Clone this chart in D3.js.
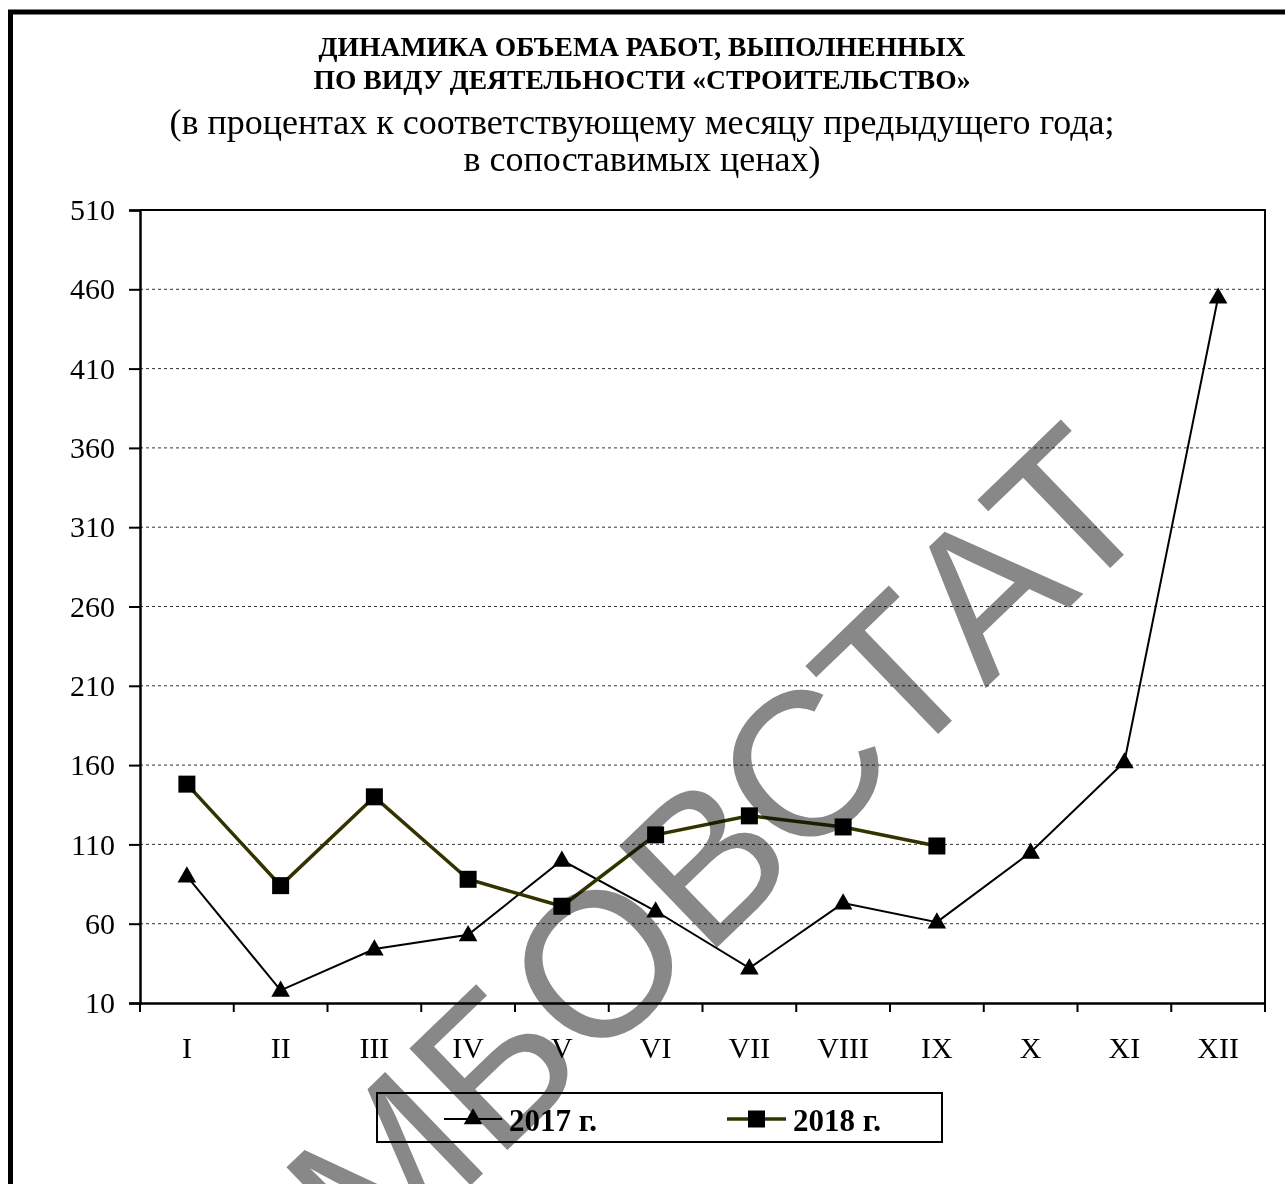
<!DOCTYPE html>
<html>
<head>
<meta charset="utf-8">
<script src="https://cdn.jsdelivr.net/npm/d3@7"></script>
<style>
  html, body { margin: 0; padding: 0; background: #fff; }
  svg { display: block; }
</style>
</head>
<body>
<svg id="chart" width="1285" height="1184"></svg>
<script>
const categories = ["I","II","III","IV","V","VI","VII","VIII","IX","X","XI","XII"];
const values2017 = [90, 18, 44, 53, 100, 68, 32, 73, 61, 105, 162, 455];
const values2018 = [148, 84, 140, 88, 71, 116, 128, 121, 109];
const yTicks = [10, 60, 110, 160, 210, 260, 310, 360, 410, 460, 510];
const seriesNames = ["2017 г.", "2018 г."];
const titleLines = ["ДИНАМИКА ОБЪЕМА РАБОТ, ВЫПОЛНЕННЫХ", "ПО ВИДУ ДЕЯТЕЛЬНОСТИ «СТРОИТЕЛЬСТВО»"];
const subtitleLines = ["(в процентах к соответствующему месяцу предыдущего года;", "в сопоставимых ценах)"];
const watermark = "МБОВСТАТ";

const svg = d3.select("#chart");
const serif = "'Liberation Serif', 'Times New Roman', serif";

// outer frame (extends beyond right and bottom edges)
svg.append("rect").attr("x", 10.5).attr("y", 12).attr("width", 1290).attr("height", 1200)
  .attr("fill", "none").attr("stroke", "#000").attr("stroke-width", 5);

// titles
svg.selectAll("text.title").data(titleLines).join("text")
  .attr("class", "title")
  .attr("x", 642).attr("y", (d, i) => 56 + i * 33)
  .attr("text-anchor", "middle")
  .attr("font-family", serif).attr("font-weight", "bold").attr("font-size", 27.6)
  .text(d => d);
svg.selectAll("text.subtitle").data(subtitleLines).join("text")
  .attr("class", "subtitle")
  .attr("x", 642).attr("y", (d, i) => 134 + i * 37)
  .attr("text-anchor", "middle")
  .attr("font-family", serif).attr("font-size", 36)
  .text(d => d);

const L = 140, R = 1265, T = 210, B = 1003;
const x = d3.scaleBand().domain(categories).range([L, R]).padding(0);
const y = d3.scaleLinear().domain([10, 510]).range([B, T]);
const cx = c => x(c) + x.bandwidth() / 2;

// gridlines
svg.append("g").selectAll("line").data(yTicks.filter(t => t !== 10 && t !== 510)).join("line")
  .attr("x1", L).attr("x2", R).attr("y1", d => y(d)).attr("y2", d => y(d))
  .attr("stroke", "#333").attr("stroke-width", 1).attr("stroke-dasharray", "3,3");

// plot frame top & right
svg.append("path").attr("d", `M${L},${y(510)}H${R}V${B}`)
  .attr("fill", "none").attr("stroke", "#000").attr("stroke-width", 2);

// y axis
const yAxis = svg.append("g").attr("transform", `translate(${L},0)`)
  .call(d3.axisLeft(y).tickValues(yTicks).tickSize(11).tickPadding(14).tickFormat(d3.format("d")));
yAxis.select(".domain").attr("stroke-width", 2.5);
yAxis.selectAll(".tick line").attr("stroke-width", 2);
yAxis.selectAll("text").attr("font-family", serif).attr("font-size", 30).attr("fill", "#000");

// x axis
const xAxis = svg.append("g").attr("transform", `translate(0,${B})`)
  .call(d3.axisBottom(x).tickSize(0).tickPadding(34));
xAxis.select(".domain").attr("stroke-width", 2.5);
xAxis.selectAll("text").attr("font-family", serif).attr("font-size", 30).attr("fill", "#000");
const boundaries = categories.map(c => x(c)).concat([x.range()[1]]);
svg.append("g").selectAll("line").data(boundaries).join("line")
  .attr("x1", d => d).attr("x2", d => d).attr("y1", B).attr("y2", B + 9)
  .attr("stroke", "#000").attr("stroke-width", 2);

// lines
const line = d3.line().x(d => cx(d.c)).y(d => y(d.v));
const data2017 = values2017.map((v, i) => ({ c: categories[i], v }));
const data2018 = values2018.map((v, i) => ({ c: categories[i], v }));

svg.append("path").datum(data2017).attr("d", line)
  .attr("fill", "none").attr("stroke", "#000").attr("stroke-width", 2);
svg.append("path").datum(data2018).attr("d", line)
  .attr("fill", "none").attr("stroke", "#333300").attr("stroke-width", 3.5);

const tri = d3.symbol().type(d3.symbolTriangle).size(150);
const sq = 17;
svg.append("g").selectAll("path").data(data2017).join("path")
  .attr("d", tri).attr("transform", d => `translate(${cx(d.c)},${y(d.v) + 1})`).attr("fill", "#000");
svg.append("g").selectAll("rect").data(data2018).join("rect")
  .attr("x", d => cx(d.c) - sq / 2).attr("y", d => y(d.v) - sq / 2)
  .attr("width", sq).attr("height", sq).attr("fill", "#000");

// legend
const lg = svg.append("g");
lg.append("rect").attr("x", 377).attr("y", 1093).attr("width", 565).attr("height", 49)
  .attr("fill", "#fff").attr("stroke", "#000").attr("stroke-width", 2);
const legendItems = [
  { name: seriesNames[0], x0: 444, x1: 502, color: "#000", w: 2, marker: "tri", tx: 509 },
  { name: seriesNames[1], x0: 727, x1: 786, color: "#333300", w: 3.5, marker: "sq", tx: 793 }
];
legendItems.forEach(it => {
  lg.append("line").attr("x1", it.x0).attr("x2", it.x1).attr("y1", 1119).attr("y2", 1119)
    .attr("stroke", it.color).attr("stroke-width", it.w);
  const mx = (it.x0 + it.x1) / 2;
  if (it.marker === "tri") {
    lg.append("path").attr("d", tri).attr("transform", `translate(${mx},1119)`).attr("fill", "#000");
  } else {
    lg.append("rect").attr("x", mx - sq / 2).attr("y", 1119 - sq / 2).attr("width", sq).attr("height", sq).attr("fill", "#000");
  }
  lg.append("text").attr("x", it.tx).attr("y", 1131)
    .attr("font-family", serif).attr("font-weight", "bold").attr("font-size", 31)
    .text(it.name);
});

// watermark (multiplied over the chart so black marks stay black)
svg.append("text")
  .attr("transform", "translate(716,846) rotate(-44)")
  .attr("text-anchor", "middle").attr("dy", "0.36em")
  .attr("font-family", "'Liberation Sans', Arial, sans-serif").attr("font-size", 205)
  .attr("fill", "#888")
  .style("mix-blend-mode", "multiply")
  .text(watermark);
</script>
</body>
</html>
